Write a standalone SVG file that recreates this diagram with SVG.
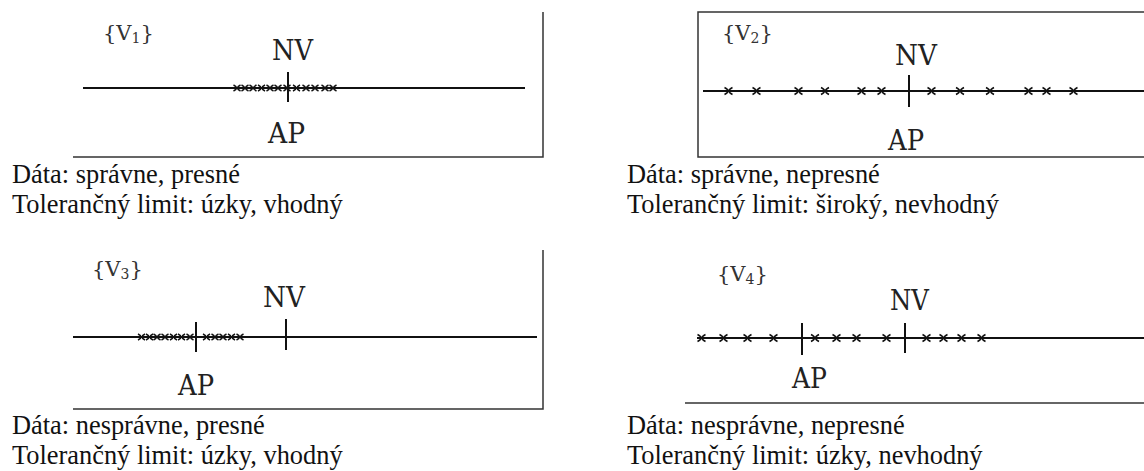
<svg xmlns="http://www.w3.org/2000/svg" width="1144" height="471" viewBox="0 0 1144 471">
<style>
.frame{stroke:#333;stroke-width:1.5;fill:none}
.axis{stroke:#111;stroke-width:2;fill:none}
.tick{stroke:#111;stroke-width:2}
.lbl{font-family:"DejaVu Serif","Liberation Serif",serif;font-size:27px;fill:#222}
.var{font-family:"DejaVu Serif","Liberation Serif",serif;font-size:21px;fill:#333}
.sub{font-size:14px}
.cap{font-family:"Liberation Serif","Times New Roman",serif;font-size:26.4px;fill:#111}
</style>
<defs>
<path id="x" d="M-4,-3.5 Q3,0 -4,3.5 M4,-3.5 Q-3,0 4,3.5" fill="none" stroke="#111" stroke-width="1.5"/>
<path id="xs" d="M-3.5,-3 Q2.5,0 -3.5,3 M3.5,-3 Q-2.5,0 3.5,3" fill="none" stroke="#111" stroke-width="1.5"/>
</defs>

<g id="panel1">
<path class="frame" d="M543,12 V157 H73"/>
<path class="axis" d="M83,88 H525"/>
<g>
<use href="#xs" x="237" y="88"/><use href="#xs" x="245" y="88"/><use href="#xs" x="253" y="88"/><use href="#xs" x="261.5" y="88"/><use href="#xs" x="270" y="88"/><use href="#xs" x="278" y="88"/><use href="#xs" x="287" y="88"/><use href="#xs" x="296.5" y="88"/><use href="#xs" x="306" y="88"/><use href="#xs" x="315" y="88"/><use href="#xs" x="325" y="88"/><use href="#xs" x="333" y="88"/>
</g>
<line class="tick" x1="288" y1="72" x2="288" y2="102"/>
<text class="var" x="103" y="40">{V<tspan class="sub" dy="3">1</tspan><tspan dy="-3">}</tspan></text>
<text class="lbl" x="272" y="60" textLength="41" lengthAdjust="spacingAndGlyphs">NV</text>
<text class="lbl" x="268" y="143" textLength="37" lengthAdjust="spacingAndGlyphs">AP</text>
<text class="cap" x="12" y="183">Dáta: správne, presné</text>
<text class="cap" x="12" y="213">Tolerančný limit: úzky, vhodný</text>
</g>

<g id="panel2">
<path class="frame" d="M1146,12 H698 V157 H1146"/>
<path class="axis" d="M703,91 H1144"/>
<g>
<use href="#x" x="728.5" y="91"/><use href="#x" x="756.5" y="91"/><use href="#x" x="798.5" y="91"/><use href="#x" x="825" y="91"/><use href="#x" x="861.5" y="91"/><use href="#x" x="881.5" y="91"/><use href="#x" x="931.5" y="91"/><use href="#x" x="960" y="91"/><use href="#x" x="990" y="91"/><use href="#x" x="1028.5" y="91"/><use href="#x" x="1046.5" y="91"/><use href="#x" x="1073.5" y="91"/>
</g>
<line class="tick" x1="909" y1="75" x2="909" y2="107"/>
<text class="var" x="722" y="40">{V<tspan class="sub" dy="3">2</tspan><tspan dy="-3">}</tspan></text>
<text class="lbl" x="895" y="65" textLength="42" lengthAdjust="spacingAndGlyphs">NV</text>
<text class="lbl" x="888" y="150" textLength="36" lengthAdjust="spacingAndGlyphs">AP</text>
<text class="cap" x="627" y="183">Dáta: správne, nepresné</text>
<text class="cap" x="627" y="213">Tolerančný limit: široký, nevhodný</text>
</g>

<g id="panel3">
<path class="frame" d="M543,250 V409 H73"/>
<path class="axis" d="M73,337 H537"/>
<g>
<use href="#xs" x="141.5" y="337"/><use href="#xs" x="149.5" y="337"/><use href="#xs" x="157" y="337"/><use href="#xs" x="165" y="337"/><use href="#xs" x="173.5" y="337"/><use href="#xs" x="181.5" y="337"/><use href="#xs" x="190" y="337"/><use href="#xs" x="206.5" y="337"/><use href="#xs" x="215" y="337"/><use href="#xs" x="223" y="337"/><use href="#xs" x="231.5" y="337"/><use href="#xs" x="240" y="337"/>
</g>
<line class="tick" x1="196" y1="322" x2="196" y2="352"/>
<line class="tick" x1="286" y1="319" x2="286" y2="350"/>
<text class="var" x="92" y="276">{V<tspan class="sub" dy="3">3</tspan><tspan dy="-3">}</tspan></text>
<text class="lbl" x="263" y="307" textLength="42" lengthAdjust="spacingAndGlyphs">NV</text>
<text class="lbl" x="178" y="395" textLength="36" lengthAdjust="spacingAndGlyphs">AP</text>
<text class="cap" x="12" y="434">Dáta: nesprávne, presné</text>
<text class="cap" x="12" y="464">Tolerančný limit: úzky, vhodný</text>
</g>

<g id="panel4">
<path class="frame" d="M685,403 H1144"/>
<path class="axis" d="M697,338 H1144"/>
<g>
<use href="#x" x="701.5" y="338"/><use href="#x" x="723.5" y="338"/><use href="#x" x="747.5" y="338"/><use href="#x" x="773.5" y="338"/><use href="#x" x="815" y="338"/><use href="#x" x="836.5" y="338"/><use href="#x" x="856.5" y="338"/><use href="#x" x="886.5" y="338"/><use href="#x" x="926.5" y="338"/><use href="#x" x="943.5" y="338"/><use href="#x" x="961.5" y="338"/><use href="#x" x="981.5" y="338"/>
</g>
<line class="tick" x1="802" y1="323" x2="802" y2="355"/>
<line class="tick" x1="905" y1="323" x2="905" y2="353"/>
<text class="var" x="717" y="281">{V<tspan class="sub" dy="3">4</tspan><tspan dy="-3">}</tspan></text>
<text class="lbl" x="890" y="310" textLength="39" lengthAdjust="spacingAndGlyphs">NV</text>
<text class="lbl" x="792" y="388" textLength="35" lengthAdjust="spacingAndGlyphs">AP</text>
<text class="cap" x="627" y="434">Dáta: nesprávne, nepresné</text>
<text class="cap" x="627" y="464">Tolerančný limit: úzky, nevhodný</text>
</g>
</svg>
